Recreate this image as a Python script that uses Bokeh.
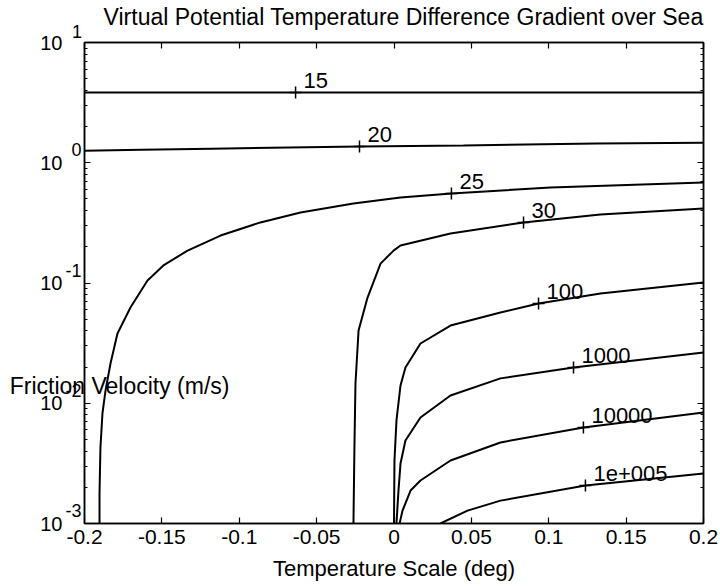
from bokeh.plotting import figure
from bokeh.models import (Range1d, FixedTicker, LinearAxis, LogAxis, LogScale,
                          CustomJSTickFormatter)
from bokeh.core.properties import value
from bokeh.embed import file_html
from bokeh.resources import INLINE

FONT = "Liberation Sans"

# ---------------- data ----------------
x_ticks = [-0.2, -0.15, -0.1, -0.05, 0.0, 0.05, 0.1, 0.15, 0.2]
x_tick_labels = ["-0.2", "-0.15", "-0.1", "-0.05", "0", "0.05", "0.1", "0.15", "0.2"]
y_ticks = [1e-3, 1e-2, 1e-1, 1.0, 10.0]
y_tick_base = ["10", "10", "10", "10", "10"]
y_tick_exponents = ["-3", "-2", "-1", "0", "1"]

c15_x = [-0.2, 0.2]
c15_y = [3.84, 3.84]

c20_x = [-0.2, -0.1632, -0.1179, -0.0223, 0.0449, 0.1309, 0.2]
c20_y = [1.26, 1.285, 1.31, 1.365, 1.39, 1.445, 1.47]

c25_x = [-0.1903, -0.1903, -0.1897, -0.1884, -0.1864, -0.1832, -0.1787, -0.1703,
         -0.1593, -0.1490, -0.1334, -0.1121, -0.0863, -0.0604, -0.0262, 0.0042,
         0.0371, 0.1011, 0.2]
c25_y = [0.001, 0.00177, 0.00429, 0.00822, 0.0128, 0.0214, 0.0380, 0.0625,
         0.105, 0.140, 0.186, 0.248, 0.319, 0.386, 0.458, 0.514, 0.555, 0.622, 0.685]

c30_x = [-0.0262, -0.0256, -0.0249, -0.0229, -0.0171, -0.0087, -0.0003, 0.0042,
         0.0365, 0.0837, 0.1334, 0.2]
c30_y = [0.001, 0.00404, 0.0146, 0.0403, 0.0757, 0.145, 0.186, 0.205,
         0.258, 0.319, 0.371, 0.417]

c100_x = [0.0, 0.0003, 0.0016, 0.0042, 0.0074, 0.0171, 0.0365, 0.0688, 0.0934, 0.1334, 0.2]
c100_y = [0.001, 0.00334, 0.00719, 0.01405, 0.0198, 0.0314, 0.0443, 0.0568, 0.0675, 0.0818, 0.101]

c1000_x = [0.0016, 0.0029, 0.0042, 0.0074, 0.0171, 0.0365, 0.0688, 0.1160, 0.2]
c1000_y = [0.001, 0.00188, 0.00315, 0.00490, 0.00761, 0.0116, 0.0161, 0.0198, 0.0264]

c10000_x = [0.0036, 0.0055, 0.0107, 0.0171, 0.0365, 0.0688, 0.1224, 0.2]
c10000_y = [0.001, 0.00128, 0.00188, 0.00228, 0.00334, 0.00472, 0.00629, 0.00837]

c1e5_x = [0.0300, 0.0475, 0.0688, 0.1237, 0.2]
c1e5_y = [0.001, 0.00128, 0.00155, 0.00207, 0.00261]

contour_labels = ["15", "20", "25", "30", "100", "1000", "10000", "1e+005"]
label_x = [-0.0636, -0.0223, 0.0371, 0.0837, 0.0934, 0.1160, 0.1224, 0.1237]
label_y = [3.84, 1.365, 0.555, 0.319, 0.0675, 0.0198, 0.00629, 0.00207]

contours = [(c15_x, c15_y), (c20_x, c20_y), (c25_x, c25_y), (c30_x, c30_y),
            (c100_x, c100_y), (c1000_x, c1000_y), (c10000_x, c10000_y), (c1e5_x, c1e5_y)]

y_minor = [m * 10.0 ** e for e in range(-3, 1) for m in range(2, 10)]

TITLE = "Virtual Potential Temperature Difference Gradient over Sea"
XLABEL = "Temperature Scale (deg)"
YLABEL = "Friction Velocity (m/s)"
YLABEL_AT = 10 ** -1.86          # height of the horizontal y label
EXP_RAISE = 10 ** (13 / 120.25)  # exponent sits ~13 px above its tick
NBSP = "\u00a0"

# ---------------- figure ----------------
p = figure(width=720, height=586, output_backend="svg", toolbar_location=None,
           y_axis_type="log",
           x_range=Range1d(-0.2, 0.2), y_range=Range1d(1e-3, 10),
           min_border_left=84, min_border_right=17, min_border_top=42, min_border_bottom=63)
p.background_fill_color = "white"
p.border_fill_color = "white"
p.xgrid.visible = False
p.ygrid.visible = False
p.outline_line_color = "black"
p.outline_line_width = 1.5

p.extra_y_ranges = {"exp": Range1d(1e-3 / EXP_RAISE, 10 / EXP_RAISE)}
p.extra_y_scales = {"exp": LogScale()}

for xs, ys in contours:
    p.line(xs, ys, line_color="black", line_width=2)

p.scatter(label_x, label_y, marker="cross", size=12, line_color="black", line_width=1.5)
p.text(label_x, label_y, text=contour_labels, x_offset=8, y_offset=-12,
       text_align="left", text_baseline="middle", text_color="black",
       text_font=value(FONT), text_font_size="22px")

# bottom axis
xa = p.xaxis[0]
xa.ticker = FixedTicker(ticks=x_ticks, minor_ticks=[])
xa.major_label_overrides = {v: s for v, s in zip(x_ticks, x_tick_labels)}
xa.axis_label = XLABEL
xa.axis_label_text_font = FONT
xa.axis_label_text_font_style = "normal"
xa.axis_label_text_font_size = "22px"
xa.axis_label_text_color = "black"
xa.axis_label_standoff = 9
xa.major_label_text_font = FONT
xa.major_label_text_font_size = "21px"
xa.major_label_text_color = "black"
xa.major_label_standoff = 6

# left axis: ticks only
ya = p.yaxis[0]
ya.ticker = FixedTicker(ticks=y_ticks, minor_ticks=y_minor)
ya.formatter = CustomJSTickFormatter(code="return ''")
ya.major_label_standoff = 0

# top axis: ticks, plus the raised exponent of the 10^1 label
top = LinearAxis(ticker=FixedTicker(ticks=x_ticks, minor_ticks=[]),
                 formatter=CustomJSTickFormatter(code="return ''"),
                 major_label_overrides={x_ticks[0]: y_tick_exponents[-1] + NBSP * 3})
top.major_label_standoff = 1
top.major_label_text_font = FONT
top.major_label_text_font_size = "18px"
top.major_label_text_color = "black"
p.add_layout(top, "above")

# title, drawn as the label of an outer (tickless) top axis
title_axis = LinearAxis(ticker=FixedTicker(ticks=[], minor_ticks=[]))
title_axis.axis_line_color = None
title_axis.major_label_standoff = 0
title_axis.axis_label = NBSP * 3 + TITLE
title_axis.axis_label_standoff = -11
title_axis.axis_label_text_font = FONT
title_axis.axis_label_text_font_style = "normal"
title_axis.axis_label_text_font_size = "23px"
title_axis.axis_label_text_color = "black"
p.add_layout(title_axis, "above")

right = LogAxis(ticker=FixedTicker(ticks=y_ticks, minor_ticks=y_minor),
                formatter=CustomJSTickFormatter(code="return ''"))
right.major_label_standoff = 0
right.major_label_text_font_size = "1px"
p.add_layout(right, "right")

for ax in [xa, ya, top, right]:
    ax.axis_line_color = "black"
    ax.axis_line_width = 1.5
    ax.major_tick_in = 6
    ax.major_tick_out = 0
    ax.minor_tick_in = 3
    ax.minor_tick_out = 0
    ax.major_tick_line_color = "black"
    ax.minor_tick_line_color = "black"
    ax.major_tick_line_width = 1.2
title_axis.major_tick_in = 0
title_axis.major_tick_out = 0
title_axis.minor_tick_in = 0
title_axis.minor_tick_out = 0

# exponent labels (raised) — inner, then "10" labels outside them, then the y label
exp_axis = LogAxis(y_range_name="exp", ticker=FixedTicker(ticks=y_ticks, minor_ticks=[]),
                   major_label_overrides={v: s for v, s in zip(y_ticks, y_tick_exponents)})
base_axis = LogAxis(ticker=FixedTicker(ticks=y_ticks, minor_ticks=[]),
                    major_label_overrides={v: s for v, s in zip(y_ticks, y_tick_base)})
ylab_axis = LogAxis(ticker=FixedTicker(ticks=[YLABEL_AT], minor_ticks=[]),
                    major_label_overrides={YLABEL_AT: YLABEL})
for ax, size, standoff in [(exp_axis, "18px", 3), (base_axis, "20px", 0), (ylab_axis, "23px", -192)]:
    ax.axis_line_color = None
    ax.major_tick_line_color = None
    ax.minor_tick_line_color = None
    ax.major_tick_in = 0
    ax.major_tick_out = 0
    ax.minor_tick_in = 0
    ax.minor_tick_out = 0
    ax.major_label_text_font = FONT
    ax.major_label_text_font_size = size
    ax.major_label_text_color = "black"
    ax.major_label_standoff = standoff
    p.add_layout(ax, "left")

open("out.html", "w").write(file_html(p, INLINE))
